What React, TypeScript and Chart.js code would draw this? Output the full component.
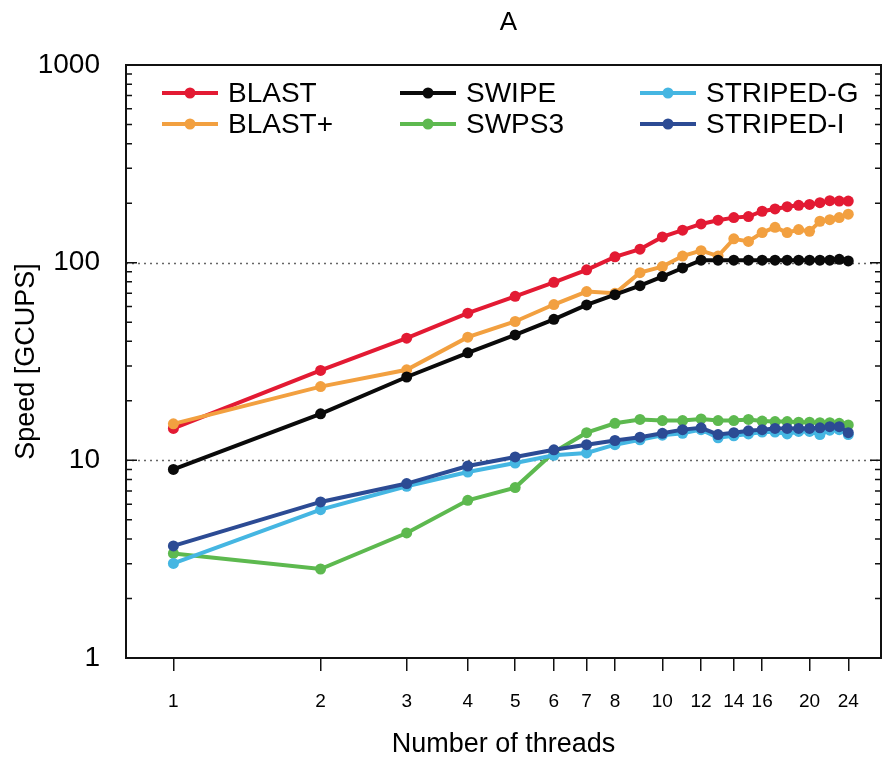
import React, { useEffect, useRef } from "react";
import { Chart, registerables } from "chart.js";

Chart.register(...registerables);

const threads = [1, 2, 3, 4, 5, 6, 7, 8, 9, 10, 11, 12, 13, 14, 15, 16, 17, 18, 19, 20, 21, 22, 23, 24];
const blast = [14.5, 28.5, 41.5, 55.5, 67.6, 79.5, 92, 107, 117, 135, 146, 157, 164, 169, 171, 182, 187, 192, 195, 197, 201, 206, 205, 205];
const blastPlus = [15.3, 23.6, 28.7, 42.0, 50.4, 61.4, 71.4, 70, 89, 95.5, 108, 115, 108, 132, 128, 142, 151, 142, 147, 144, 162, 165, 169, 176];
const swipe = [9.0, 17.2, 26.4, 35.0, 43.1, 51.7, 61.1, 68.9, 76.5, 85, 94, 103, 103, 103, 103, 103, 103, 103, 103, 103, 103, 103, 104, 102];
const swps3 = [3.38, 2.82, 4.29, 6.28, 7.28, 11.0, 13.8, 15.4, 16.1, 15.9, 15.9, 16.2, 15.9, 15.9, 16.1, 15.8, 15.7, 15.7, 15.6, 15.6, 15.5, 15.5, 15.4, 15.1];
const stripedG = [3.01, 5.63, 7.39, 8.73, 9.69, 10.6, 10.9, 12.0, 12.7, 13.4, 13.7, 14.3, 13.0, 13.3, 13.6, 13.9, 13.9, 13.6, 14.0, 14.0, 13.5, 14.2, 14.3, 13.5];
const stripedI = [3.69, 6.16, 7.63, 9.36, 10.4, 11.3, 12.0, 12.6, 13.1, 13.7, 14.3, 14.6, 13.5, 13.8, 14.1, 14.3, 14.5, 14.5, 14.5, 14.5, 14.6, 14.8, 14.8, 13.8];

const seriesNames = ["BLAST", "BLAST+", "SWIPE", "SWPS3", "STRIPED-G", "STRIPED-I"];
const seriesValues = [blast, blastPlus, swipe, swps3, stripedG, stripedI];
const seriesColors = ["#e31a33", "#f2a040", "#0a0a0a", "#5db94f", "#45b6e2", "#2c4b94"];

const chartTitle = "A";
const xTickValues = [1, 2, 3, 4, 5, 6, 7, 8, 10, 12, 14, 16, 20, 24];
const yMajorTicks = [1, 10, 100, 1000];
const yGridValues = [10, 100];

const FONT = "'Liberation Sans', Arial, Helvetica, sans-serif";

function yAllTicks(): number[] {
  const out: number[] = [];
  for (let d = 1; d < 1000; d *= 10) {
    for (let m = 1; m < 10; m++) out.push(d * m);
  }
  out.push(1000);
  return out;
}

const framePlugin = {
  id: "framePlugin",
  beforeDatasetsDraw(chart: any) {
    const { ctx, chartArea } = chart;
    const ys = chart.scales.y;
    ctx.save();
    ctx.strokeStyle = "#666";
    ctx.lineWidth = 1.5;
    ctx.setLineDash([2, 4]);
    for (const v of yGridValues) {
      const y = Math.round(ys.getPixelForValue(v)) + 0.5;
      ctx.beginPath();
      ctx.moveTo(chartArea.left, y);
      ctx.lineTo(chartArea.right, y);
      ctx.stroke();
    }
    ctx.restore();
  },
  afterDatasetsDraw(chart: any) {
    const { ctx, chartArea } = chart;
    const ys = chart.scales.y;
    ctx.save();
    ctx.strokeStyle = "#111";
    ctx.lineWidth = 1.5;
    for (const v of yAllTicks()) {
      const y = ys.getPixelForValue(v);
      const major = yMajorTicks.includes(v);
      const len = major ? 11 : 6;
      ctx.beginPath();
      ctx.moveTo(chartArea.left, y);
      ctx.lineTo(chartArea.left + len, y);
      ctx.moveTo(chartArea.right, y);
      ctx.lineTo(chartArea.right - len, y);
      ctx.stroke();
    }
    ctx.lineWidth = 2;
    ctx.strokeRect(chartArea.left, chartArea.top, chartArea.right - chartArea.left, chartArea.bottom - chartArea.top);

    // title
    ctx.fillStyle = "#000";
    ctx.font = `26px ${FONT}`;
    ctx.textAlign = "center";
    ctx.textBaseline = "middle";
    ctx.fillText(chartTitle, (chartArea.left + chartArea.right) / 2 + 5, 23);

    // legend
    const cols = [162, 400, 640];
    const rows = [93, 124];
    ctx.font = `28px ${FONT}`;
    ctx.textBaseline = "middle";
    ctx.textAlign = "left";
    seriesNames.forEach((name, i) => {
      const x0 = cols[Math.floor(i / 2)];
      const y0 = rows[i % 2];
      ctx.strokeStyle = seriesColors[i];
      ctx.lineWidth = 4;
      ctx.beginPath();
      ctx.moveTo(x0, y0);
      ctx.lineTo(x0 + 56, y0);
      ctx.stroke();
      ctx.fillStyle = seriesColors[i];
      ctx.beginPath();
      ctx.arc(x0 + 28, y0, 5.5, 0, Math.PI * 2);
      ctx.fill();
      ctx.fillStyle = "#000";
      ctx.fillText(name, x0 + 66, y0 + 1);
    });
    ctx.restore();
  },
};

export default function App() {
  const canvasRef = useRef<HTMLCanvasElement | null>(null);

  useEffect(() => {
    const canvas = canvasRef.current;
    if (!canvas) return;
    const datasets = seriesNames.map((name, i) => ({
      label: name,
      data: threads.map((t, j) => ({ x: t, y: seriesValues[i][j] })),
      borderColor: seriesColors[i],
      backgroundColor: seriesColors[i],
      pointBackgroundColor: seriesColors[i],
      pointBorderWidth: 0,
      pointRadius: 5.5,
      borderWidth: 4,
      tension: 0,
      fill: false,
      order: seriesNames.length - i,
    }));
    const chart = new Chart(canvas, {
      type: "line",
      data: { datasets },
      plugins: [framePlugin],
      options: {
        responsive: false,
        animation: false,
        layout: { padding: { left: 0, right: 12, top: 65, bottom: 0 } },
        plugins: {
          legend: { display: false },
          tooltip: { enabled: false },
          title: { display: false },
        },
        scales: {
          x: {
            type: "logarithmic",
            min: 0.8,
            max: 28,
            afterBuildTicks: (scale: any) => {
              scale.ticks = xTickValues.map((v) => ({ value: v }));
            },
            afterFit: (scale: any) => {
              scale.height = 100;
            },
            ticks: {
              autoSkip: false,
              maxRotation: 0,
              minRotation: 0,
              color: "#000",
              padding: 19,
              font: { family: FONT, size: 19 },
              callback: (v: any) => String(v),
            },
            grid: {
              drawOnChartArea: false,
              drawTicks: true,
              tickLength: 13,
              color: "#111",
              lineWidth: 1.5,
            },
            border: { display: false },
            title: {
              display: true,
              text: "Number of threads",
              color: "#000",
              font: { family: FONT, size: 27, lineHeight: 1.0 },
              padding: { top: 0, bottom: 0 },
            },
          },
          y: {
            type: "logarithmic",
            min: 1,
            max: 1000,
            afterBuildTicks: (scale: any) => {
              scale.ticks = yMajorTicks.map((v) => ({ value: v }));
            },
            afterFit: (scale: any) => {
              scale.width = 126;
            },
            ticks: {
              autoSkip: false,
              color: "#000",
              padding: 18,
              font: { family: FONT, size: 28 },
              callback: (v: any) => String(v),
            },
            grid: { display: false },
            border: { display: false },
            title: {
              display: true,
              text: "Speed [GCUPS]",
              color: "#000",
              font: { family: FONT, size: 27 },
              padding: { top: 10, bottom: 0 },
            },
          },
        },
      } as any,
    });
    return () => chart.destroy();
  }, []);

  return (
    <div style={{ position: "fixed", left: 0, top: 0, width: 893, height: 758, background: "#fff" }}>
      <canvas ref={canvasRef} width={893} height={758} style={{ display: "block" }} />
    </div>
  );
}
